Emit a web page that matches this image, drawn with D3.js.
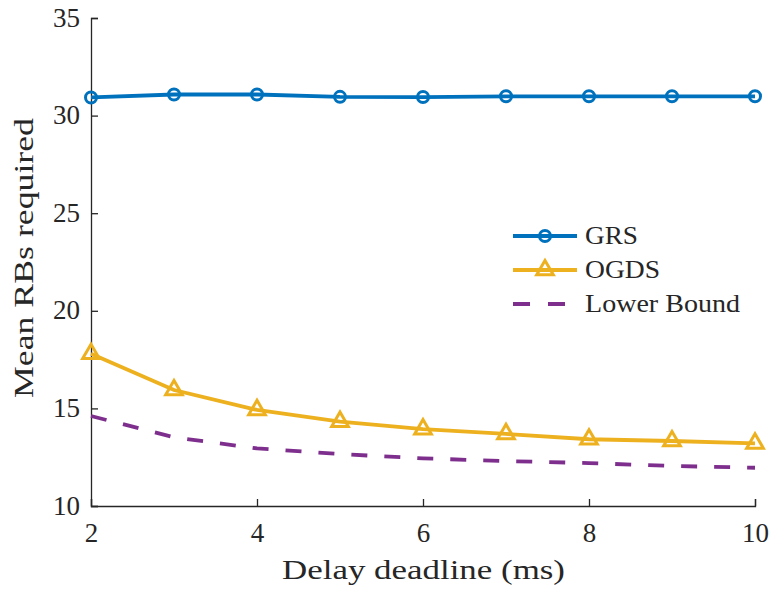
<!DOCTYPE html>
<html>
<head>
<meta charset="utf-8">
<script src="https://cdn.jsdelivr.net/npm/d3@7/dist/d3.min.js"></script>
<style>
  html, body { margin: 0; padding: 0; background: #fff; }
</style>
</head>
<body>
<svg id="chart" width="772" height="590"></svg>
<script>
// Delay deadlines (ms) and mean resource blocks needed by each scheme
const deadlines = [2, 3, 4, 5, 6, 7, 8, 9, 10];
const grs = [30.93, 31.08, 31.08, 30.96, 30.95, 30.99, 30.99, 30.99, 30.99];
const ogds = [17.8, 15.94, 14.92, 14.32, 13.94, 13.69, 13.42, 13.33, 13.21];
const lowerBound = [14.61, 13.52, 12.95, 12.66, 12.44, 12.3, 12.2, 12.05, 11.96];

const xTicks = [2, 4, 6, 8, 10];
const yTicks = [10, 15, 20, 25, 30, 35];
const seriesNames = ["GRS", "OGDS", "Lower Bound"];

const FONT = "'Liberation Serif', 'Times New Roman', serif";
const svg = d3.select("#chart").attr("font-family", FONT);
const margin = { left: 91, right: 17, top: 18, bottom: 84 };
const W = 772, H = 590;

const x = d3.scaleLinear().domain([2, 10]).range([margin.left, W - margin.right]);
const y = d3.scaleLinear().domain([10, 35]).range([H - margin.bottom, margin.top]);

const axisColor = "#262626";
const tickFont = 27;

// Axes with inward ticks, left and bottom only
const xAxis = svg.append("g")
  .attr("transform", `translate(0,${y(10)})`)
  .call(d3.axisBottom(x).tickValues(xTicks).tickSize(-7).tickPadding(0).tickFormat(d3.format("d")));
const yAxis = svg.append("g")
  .attr("transform", `translate(${x(2)},0)`)
  .call(d3.axisLeft(y).tickValues(yTicks).tickSize(-7).tickPadding(11).tickFormat(d3.format("d")));

[xAxis, yAxis].forEach(g => {
  g.attr("font-family", FONT);
  g.select(".domain").attr("stroke", axisColor).attr("stroke-width", 1.3);
  g.selectAll(".tick line").attr("stroke", axisColor).attr("stroke-width", 1.3);
  g.selectAll(".tick text")
    .attr("fill", axisColor)
    .attr("font-family", FONT)
    .attr("font-size", tickFont);
});
xAxis.selectAll(".tick text").attr("y", 36).attr("dy", null);
yAxis.selectAll(".tick text").attr("dy", "0.3em");

// Axis titles
svg.append("text")
  .attr("x", 282)
  .attr("y", 579)
  .attr("fill", axisColor)
  .attr("font-size", 28)
  .attr("textLength", 283)
  .attr("lengthAdjust", "spacingAndGlyphs")
  .text("Delay deadline (ms)");

svg.append("text")
  .attr("transform", `translate(33,398) rotate(-90)`)
  .attr("fill", axisColor)
  .attr("font-size", 28)
  .attr("textLength", 280)
  .attr("lengthAdjust", "spacingAndGlyphs")
  .text("Mean RBs required");

const colors = { grs: "#0072BD", ogds: "#EDB120", lb: "#7E2F8E" };
const lineW = 3.8;

const line = d3.line().x((d, i) => x(deadlines[i])).y(d => y(d));

// Lower bound (dashed)
svg.append("path")
  .datum(lowerBound)
  .attr("d", line)
  .attr("fill", "none")
  .attr("stroke", colors.lb)
  .attr("stroke-width", lineW)
  .attr("stroke-dasharray", "16,17");

// OGDS line with triangle markers
svg.append("path")
  .datum(ogds)
  .attr("d", line)
  .attr("fill", "none")
  .attr("stroke", colors.ogds)
  .attr("stroke-width", lineW);

const tri = d3.symbol().type(d3.symbolTriangle).size(120);
svg.append("g").selectAll("path")
  .data(ogds)
  .join("path")
  .attr("transform", (d, i) => `translate(${x(deadlines[i])},${y(d)})`)
  .attr("d", tri)
  .attr("fill", "none")
  .attr("stroke", colors.ogds)
  .attr("stroke-width", 3);

// GRS line with circle markers
svg.append("path")
  .datum(grs)
  .attr("d", line)
  .attr("fill", "none")
  .attr("stroke", colors.grs)
  .attr("stroke-width", lineW);

svg.append("g").selectAll("circle")
  .data(grs)
  .join("circle")
  .attr("cx", (d, i) => x(deadlines[i]))
  .attr("cy", d => y(d))
  .attr("r", 5.5)
  .attr("fill", "none")
  .attr("stroke", colors.grs)
  .attr("stroke-width", 3);

// Legend
const legend = svg.append("g");
const lx0 = 513, lx1 = 577, ltx = 585;
const rows = [236, 270, 304];
const labelWidths = [53, 75, 155];

legend.append("line").attr("x1", lx0).attr("x2", lx1).attr("y1", rows[0]).attr("y2", rows[0])
  .attr("stroke", colors.grs).attr("stroke-width", lineW);
legend.append("circle").attr("cx", (lx0 + lx1) / 2).attr("cy", rows[0]).attr("r", 5.5)
  .attr("fill", "none").attr("stroke", colors.grs).attr("stroke-width", 3);

legend.append("line").attr("x1", lx0).attr("x2", lx1).attr("y1", rows[1]).attr("y2", rows[1])
  .attr("stroke", colors.ogds).attr("stroke-width", lineW);
legend.append("path").attr("transform", `translate(${(lx0 + lx1) / 2},${rows[1]})`).attr("d", tri)
  .attr("fill", "none").attr("stroke", colors.ogds).attr("stroke-width", 3);

legend.append("line").attr("x1", lx0).attr("x2", lx1).attr("y1", rows[2]).attr("y2", rows[2])
  .attr("stroke", colors.lb).attr("stroke-width", lineW).attr("stroke-dasharray", "17,18");

legend.selectAll("text")
  .data(seriesNames)
  .join("text")
  .attr("x", ltx)
  .attr("y", (d, i) => rows[i] + 7.5)
  .attr("fill", axisColor)
  .attr("font-size", 26)
  .attr("textLength", (d, i) => labelWidths[i])
  .attr("lengthAdjust", "spacingAndGlyphs")
  .text(d => d);
</script>
</body>
</html>
